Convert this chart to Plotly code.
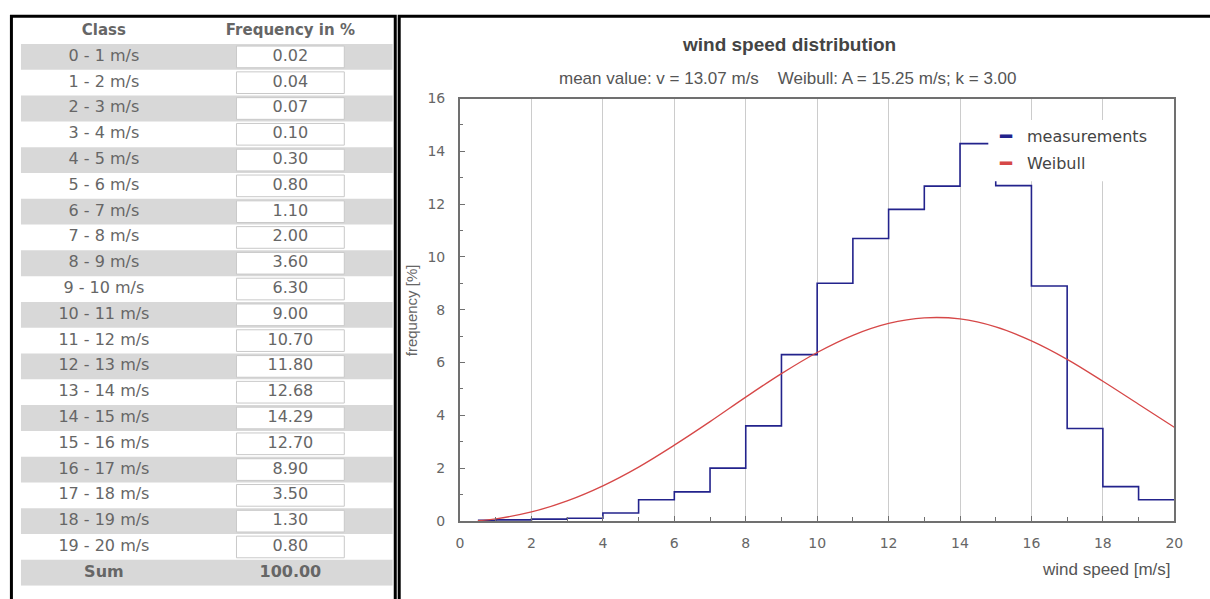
import plotly.graph_objects as go

W, H = 1210, 599

# ---------------- data ----------------
class_low = list(range(0, 20))
class_labels = [f"{c} - {c + 1} m/s" for c in class_low]
freq = [0.02, 0.04, 0.07, 0.10, 0.30, 0.80, 1.10, 2.00, 3.60, 6.30,
        9.00, 10.70, 11.80, 12.68, 14.29, 12.70, 8.90, 3.50, 1.30, 0.80]

weibull_ws = [0.5, 1, 2, 3, 4, 5, 6, 7, 8, 9, 10, 11, 12, 13, 14, 15, 16, 17, 18, 19, 20]
weibull_freq = [0.01, 0.08, 0.34, 0.76, 1.33, 2.04, 2.87, 3.76, 4.69, 5.58, 6.38,
                7.03, 7.48, 7.69, 7.65, 7.35, 6.82, 6.12, 5.29, 4.42, 3.55]

x_ticks = list(range(0, 21, 2))
y_ticks = list(range(0, 17, 2))

table_headers = ["Class", "Frequency in %"]
sum_label = "Sum"
title_text = "wind speed distribution"
subtitle_text = "mean value: v = 13.07 m/s\u00a0\u00a0\u00a0\u00a0Weibull: A = 15.25 m/s; k = 3.00"
x_title = "wind speed [m/s]"
y_title = "frequency [%]"
series_names = ["measurements", "Weibull"]


def px(x):
    return x / W


def py(y):
    return 1 - y / H


fig = go.Figure()

GRAY = "#d8d8d8"
WHITE = "#ffffff"
TXT = "#666666"
TFONT = dict(family="DejaVu Sans", size=16, color=TXT)

# ---------------- table (own axes: x in table pixels, y = row index) ----------------
n = len(freq)
TABLE_W = 376                     # table width in its own x units
CLASS_W, GAP_W, BOX_W = 168, 50, 109
rows = list(range(n + 1))         # data rows + sum row
total = sum(freq)

gray_rows = [r for r in rows if r % 2 == 0]
fig.add_trace(go.Bar(orientation="h", y=gray_rows, x=[TABLE_W] * len(gray_rows), base=0,
                     width=1.0, marker=dict(color=GRAY, line=dict(width=0)),
                     xaxis="x2", yaxis="y2", hoverinfo="skip", showlegend=False))
fig.add_trace(go.Bar(orientation="h", y=rows[:n], x=[BOX_W] * n, base=CLASS_W + GAP_W,
                     width=0.84, marker=dict(color=WHITE, line=dict(color="#c9c9c9", width=1)),
                     xaxis="x2", yaxis="y2", hoverinfo="skip", showlegend=False))

col_class = class_labels + [f"<b>{sum_label}</b>"]
col_freq = [f"{v:.2f}" for v in freq] + [f"<b>{total:.2f}</b>"]
fig.add_trace(go.Scatter(x=[CLASS_W / 2] * (n + 1), y=rows, mode="text", text=col_class,
                         textfont=TFONT, xaxis="x2", yaxis="y2",
                         hoverinfo="skip", showlegend=False, cliponaxis=False))
fig.add_trace(go.Scatter(x=[CLASS_W + GAP_W + BOX_W / 2] * (n + 1), y=rows, mode="text",
                         text=col_freq, textfont=TFONT, xaxis="x2", yaxis="y2",
                         hoverinfo="skip", showlegend=False, cliponaxis=False))
fig.add_trace(go.Scatter(x=[CLASS_W / 2, CLASS_W + GAP_W + BOX_W / 2], y=[-1, -1], mode="text",
                         text=[f"<b>{t}</b>" for t in table_headers],
                         textfont=dict(family="DejaVu Sans", size=15, color=TXT),
                         xaxis="x2", yaxis="y2", hoverinfo="skip", showlegend=False,
                         cliponaxis=False))

# ---------------- chart ----------------
edges = [c for c in class_low] + [class_low[-1] + 1]
edges[0] = class_low[0] + 0.5
step_y = freq + [freq[-1]]

BLUE = "#23238c"
RED = "#d64848"

fig.add_trace(go.Scatter(x=edges, y=step_y, mode="lines", line_shape="hv",
                         line=dict(color=BLUE, width=1.6),
                         name=series_names[0], showlegend=False, hoverinfo="skip"))
fig.add_trace(go.Scatter(x=weibull_ws, y=weibull_freq, mode="lines", line_shape="spline",
                         line=dict(color=RED, width=1.3),
                         name=series_names[1], showlegend=False, hoverinfo="skip"))

axis_common = dict(linecolor="#707070", linewidth=2, mirror=True, zeroline=False,
                   ticks="inside", ticklen=5, tickcolor="#707070",
                   tickfont=dict(family="DejaVu Sans", size=14, color=TXT))

hidden = dict(visible=False, showgrid=False, zeroline=False, fixedrange=True)

fig.update_layout(
    xaxis=dict(range=[0, 20], domain=[px(461), px(1183)],
               tickvals=x_ticks, ticktext=[str(v) for v in x_ticks],
               showgrid=True, gridcolor="#cccccc", gridwidth=1,
               minor=dict(dtick=1, ticks="inside", ticklen=4, tickcolor="#707070", showgrid=False),
               ticklabelstandoff=8, **axis_common),
    yaxis=dict(range=[0, 16], domain=[py(527), py(93)],
               tickvals=y_ticks, ticktext=[str(v) for v in y_ticks],
               showgrid=False,
               minor=dict(dtick=1, ticks="inside", ticklen=3, tickcolor="#707070", showgrid=False),
               ticklabelstandoff=10, **axis_common),
    xaxis2=dict(range=[0, TABLE_W], domain=[px(17), px(393)], anchor="y2", **hidden),
    yaxis2=dict(range=[n + 0.5, -1.5], domain=[py(593.5), py(10.5)], anchor="x2", **hidden),
)

shapes = [
    # legend background box (covers the curve, like the original)
    dict(type="rect", xref="paper", yref="paper", x0=px(995), x1=px(1177),
         y0=py(178), y1=py(115), fillcolor="white", line=dict(width=0), layer="above"),
    # left panel frame
    dict(type="path", xref="paper", yref="paper",
         path=f"M {px(7.5)},{-0.02} L {px(7.5)},{py(8.5)} L {px(395.5)},{py(8.5)} L {px(395.5)},{-0.02}",
         line=dict(color="black", width=3), layer="above"),
    # right panel frame
    dict(type="path", xref="paper", yref="paper",
         path=f"M {px(399.5)},{-0.02} L {px(399.5)},{py(8.5)} L {1.01},{py(8.5)}",
         line=dict(color="black", width=3), layer="above"),
]


def ann(text, x, y, size, color, family="Liberation Sans", xanchor="center", angle=0):
    return dict(text=text, x=px(x), y=py(y), xref="paper", yref="paper",
                xanchor=xanchor, yanchor="middle", showarrow=False, textangle=angle,
                font=dict(family=family, size=size, color=color))


annotations = [
    ann(f"<b>{title_text}</b>", 794, 38, 19, "#444444"),
    ann(subtitle_text, 793, 72, 17, "#555555"),
    ann(x_title, 1182, 577, 17, "#555555", xanchor="right"),
    ann(y_title, 412, 311, 15, TXT, angle=-90),
    # legend
    ann("\u2501", 1013, 131, 20, BLUE, "DejaVu Sans"),
    ann(series_names[0], 1032, 132, 16, "#444444", "DejaVu Sans", xanchor="left"),
    ann("\u2501", 1013, 159, 20, RED, "DejaVu Sans"),
    ann(series_names[1], 1032, 160, 16, "#444444", "DejaVu Sans", xanchor="left"),
]

fig.update_layout(width=W, height=H, margin=dict(l=0, r=0, t=0, b=0),
                  paper_bgcolor="white", plot_bgcolor="white", barmode="overlay",
                  showlegend=False, shapes=shapes, annotations=annotations)

fig.write_html("out.html")
